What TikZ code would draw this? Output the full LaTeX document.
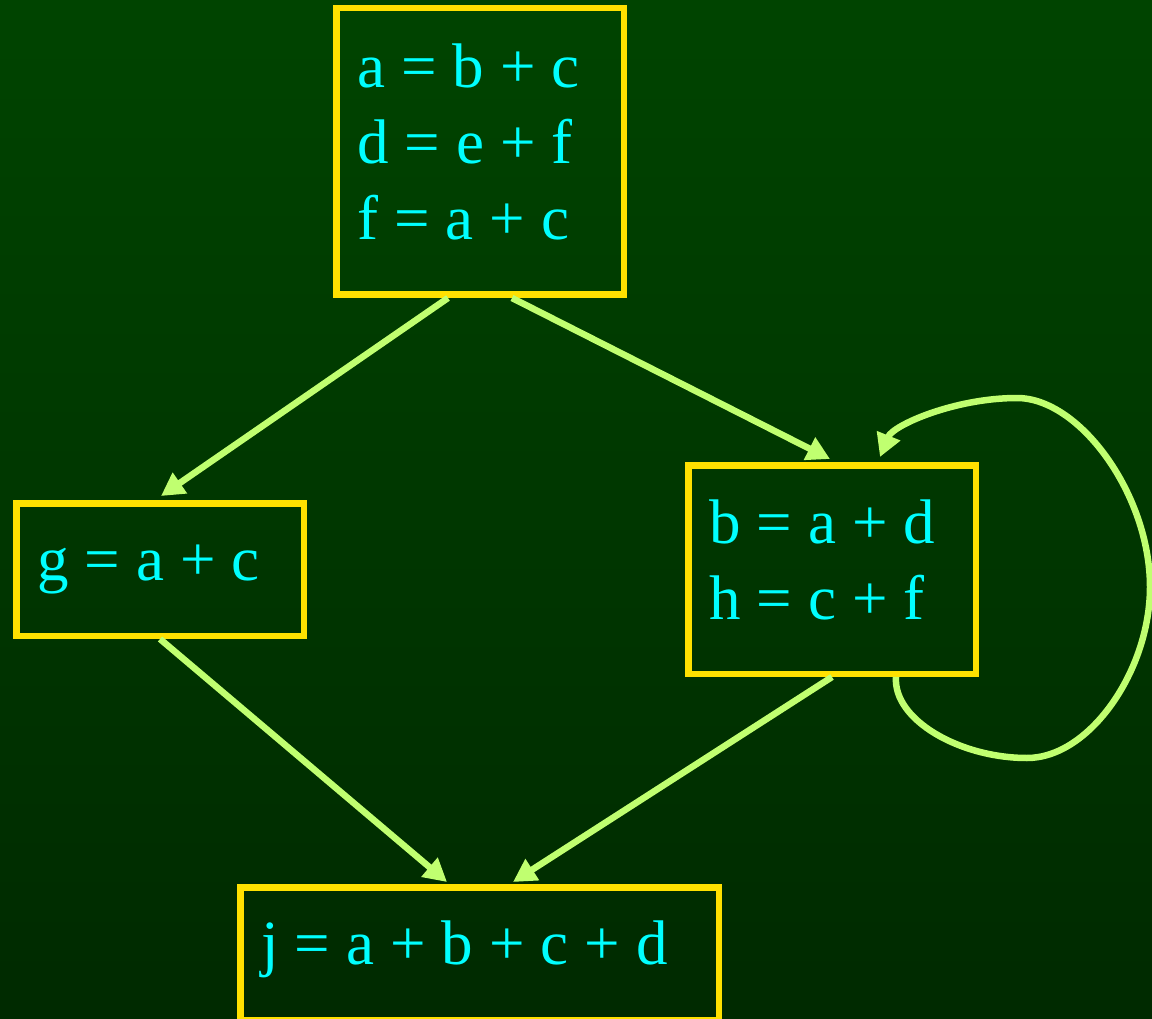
\documentclass[tikz,border=0pt]{standalone}
\usepackage{fontspec}
\setmainfont{Liberation Serif}
\usetikzlibrary{arrows.meta}
\definecolor{bgtop}{RGB}{0,68,0}
\definecolor{bgbot}{RGB}{0,42,0}
\definecolor{boxyellow}{RGB}{255,225,0}
\definecolor{edgegreen}{RGB}{192,255,112}
\definecolor{txtcyan}{RGB}{0,255,255}
\newcommand\wgap{\hspace{16pt}}
\begin{document}
\begin{tikzpicture}[x=1pt,y=-1pt,
  block/.style={draw=boxyellow,line width=6.5pt,text=txtcyan,align=left,
    inner xsep=21pt,inner ysep=0pt,font=\fontsize{63}{76}\selectfont,
    minimum width=287.5pt,text width=245.5pt,text height=43pt},
  flow/.style={draw=edgegreen,line width=6.5pt,-{Triangle[length=23pt,width=24pt]}}]
\shade[top color=bgtop,bottom color=bgbot] (0,0) rectangle (1152,1019);
\useasboundingbox (0,0) rectangle (1152,1019);
\node[block,minimum height=286.5pt,text depth=170pt] (A) at (480,151.5)
  {a\wgap=\wgap b\wgap+\wgap c\\d\wgap=\wgap e\wgap+\wgap f\\f\wgap=\wgap a\wgap+\wgap c};
\node[block,minimum height=132.5pt,text depth=22pt] (G) at (160,569.5)
  {g\wgap=\wgap a\wgap+\wgap c};
\node[block,minimum height=208.5pt,text depth=96pt] (B) at (832,569.5)
  {b\wgap=\wgap a\wgap+\wgap d\\h\wgap=\wgap c\wgap+\wgap f};
\node[block,minimum height=132.5pt,minimum width=478.5pt,text width=436.5pt,text depth=22pt] (J) at (479.5,953.5)
  {j\wgap=\wgap a\wgap+\wgap b\wgap+\wgap c\wgap+\wgap d};
\draw[flow] ([xshift=-32pt]A.south) -- ([xshift=1pt,yshift=4pt]G.north);
\draw[flow] ([xshift=32pt]A.south) -- ([xshift=-2pt,yshift=3pt]B.north);
\draw[flow] (G.south) -- ([xshift=-32.5pt,yshift=2pt]J.north);
\draw[flow] (B.south) -- ([xshift=33.5pt,yshift=2pt]J.north);
\draw[flow] ([xshift=64pt]B.south) .. controls (893,720) and (960,758) .. (1027,758)
  .. controls (1090,758) and (1150,670) .. (1150,587)
  .. controls (1150,495) and (1080,398) .. (1017,398)
  .. controls (955,398) and (893,425) .. ([xshift=48pt,yshift=5pt]B.north);
\end{tikzpicture}
\end{document}
